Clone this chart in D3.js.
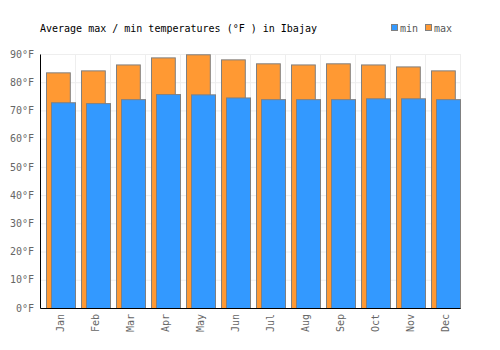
<!DOCTYPE html>
<html><head><meta charset="utf-8">
<script src="https://cdn.jsdelivr.net/npm/d3@7"></script>
<style>body{margin:0;background:#fff}svg{display:block}text{font-family:"DejaVu Sans Mono",monospace;font-size:10px}</style>
</head><body><svg id="c" width="500" height="350"></svg>
<script>
const months = ["Jan","Feb","Mar","Apr","May","Jun","Jul","Aug","Sep","Oct","Nov","Dec"];
const maxT = [83.5,84.2,86.3,88.8,89.9,88.1,86.7,86.3,86.7,86.3,85.6,84.2];
const minT = [72.9,72.6,74.0,75.8,75.7,74.6,74.0,74.0,74.0,74.3,74.3,74.0];
const yTicks = [0,10,20,30,40,50,60,70,80,90];
const title = "Average max / min temperatures (°F ) in Ibajay";

const svg = d3.select("#c");
const L=40, R=460, T=54, B=308;
const x = d3.scaleBand().domain(months).range([L,R]).padding(0);
const y = d3.scaleLinear().domain([0,90]).range([B,T]);

// grid
const g = svg.append("g");
g.selectAll("line.h").data(yTicks.slice(1)).join("line")
 .attr("x1",L).attr("x2",R).attr("y1",d=>y(d)+0.5).attr("y2",d=>y(d)+0.5)
 .attr("stroke","#eee").attr("stroke-width",1);
g.selectAll("line.v").data(months).join("line")
 .attr("x1",d=>x(d)+x.bandwidth()+0.5).attr("x2",d=>x(d)+x.bandwidth()+0.5)
 .attr("y1",T).attr("y2",B).attr("stroke","#eee").attr("stroke-width",1);

const bw = x.bandwidth();
// max bars
svg.append("g").selectAll("rect").data(maxT).join("rect")
 .attr("x",(d,i)=>x(months[i])+6.5).attr("width",bw*0.68)
 .attr("y",d=>y(d)+0.5).attr("height",d=>B-y(d))
 .attr("fill","#ff9933").attr("stroke","#808080").attr("stroke-width",1);
// min bars
svg.append("g").selectAll("rect").data(minT).join("rect")
 .attr("x",(d,i)=>x(months[i])+11.5).attr("width",bw-11)
 .attr("y",d=>y(d)+0.5).attr("height",d=>B-y(d))
 .attr("fill","#3399ff").attr("stroke","#808080").attr("stroke-width",1);

// axes
const ya = svg.append("g").attr("transform",`translate(${L},0)`)
 .call(d3.axisLeft(y).tickValues(yTicks).tickSize(0).tickPadding(6).tickFormat(d=>d+"°F"));
ya.select(".domain").attr("stroke","#000");
ya.selectAll("text").attr("fill","#666").style("font-family","DejaVu Sans Mono").style("font-size","10px");

const xa = svg.append("g").attr("transform",`translate(0,${B})`)
 .call(d3.axisBottom(x).tickSize(0).tickPadding(0));
xa.select(".domain").attr("stroke","#000");
xa.selectAll("text").attr("fill","#666").style("font-family","DejaVu Sans Mono").style("font-size","10px")
 .attr("text-anchor","end").attr("transform","translate(3,6) rotate(-90)").attr("dy","0.35em").attr("y",0).attr("x",0);

// title
svg.append("text").attr("x",40).attr("y",32).attr("fill","#000").text(title);

// legend
const leg = [{k:"min",c:"#3399ff",x:391},{k:"max",c:"#ff9933",x:425}];
const lg = svg.append("g").selectAll("g").data(leg).join("g");
lg.append("rect").attr("x",d=>d.x+0.5).attr("y",24.5).attr("width",6).attr("height",6)
 .attr("fill",d=>d.c).attr("stroke","#808080");
lg.append("text").attr("x",d=>d.x+9).attr("y",32).attr("fill","#555").text(d=>d.k);
</script></body></html>
